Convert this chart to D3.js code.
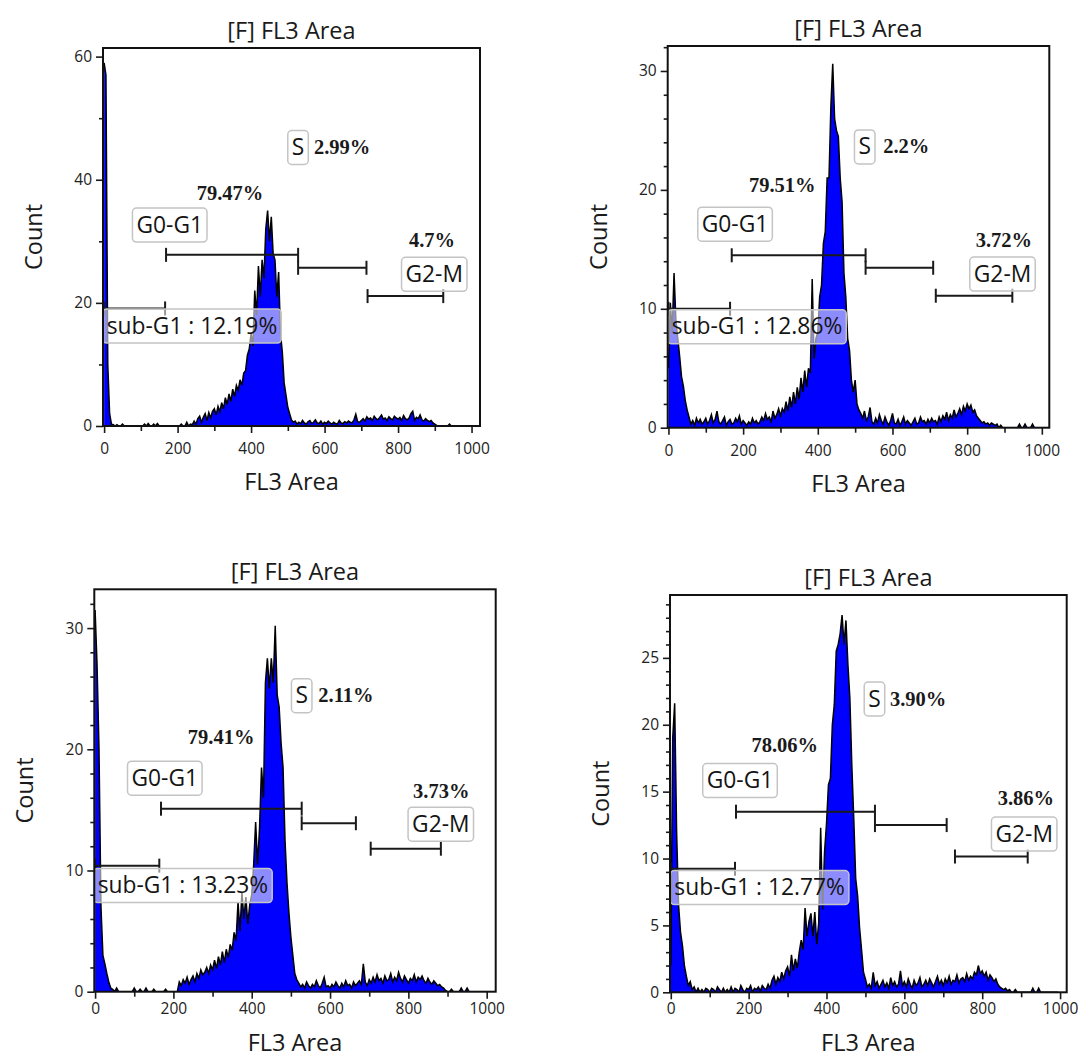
<!DOCTYPE html>
<html><head><meta charset="utf-8">
<script src="https://cdn.jsdelivr.net/npm/d3@7"></script>
<style>body{margin:0;background:#fff}svg{display:block}</style>
</head><body>
<svg id="chart" width="1078" height="1059"></svg>
<script>
// ---------- DATA ----------
// FL3 Area channel (start of each 5-unit bin)
const channels = d3.range(0, 1000, 5);

const countsA = [
59,57,10,2,0.3,0.2,0,0.2,0,0,0.3,0,0,0,0,0,0,0,0,0,
0,0,0.3,0,0.4,0,0,0.3,0,0.4,0,0,0,0,0,0,0,0,0,0,
0,0,0.3,0,0,0.6,0,0.3,0.2,0.8,0.3,1.2,1.6,0.6,1.4,2.0,0.9,2.2,1.3,2.4,
2.8,1.8,3.2,2.3,3.8,2.8,4.6,3.5,5.2,4.0,6.0,4.8,6.6,5.8,7.5,6.6,8.6,9.0,11.5,12.5,
15,13,22,18,26,21,27,24,32,35,30,34,28,27,21,25,15,12,7,5,
3,2,1,0.6,0.8,0.3,0.6,0.4,0.9,0.5,0.3,0.7,0.9,0.4,0.6,1.0,0.5,0.4,0.8,0.3,
0.6,0.4,0.8,0.5,0.3,0.6,0.4,0.3,0.9,0.5,0.4,0.7,0.5,0.8,0.6,0.5,1.0,1.9,0.7,0.6,
0.9,1.2,0.8,1.5,1.1,1.3,0.9,1.6,1.2,1.0,1.4,1.8,1.1,1.3,0.9,1.5,1.2,1.0,1.6,1.3,
1.1,1.4,0.9,1.7,1.2,1.0,1.3,2.0,2.4,0.9,1.4,1.2,1.8,1.0,0.8,1.2,0.9,0.7,0.9,0.5,
0.3,0.1,0,0,0,0,0,0,0.3,0,0,0,0,0,0,0,0,0,0,0];

const countsB = [
5,10.5,8,13,9,7.5,6,4.3,3.5,2.3,1.5,0.9,0.3,0.6,0.2,0.8,0.4,0.7,0.3,0.5,
0.8,0.3,0.6,1.1,0.4,0.7,1.4,0.5,0.3,0.6,0.9,0.2,0.5,0.7,0.3,0.4,0.8,0.5,1.0,0.3,
0.6,0.4,0.2,0.5,0.3,0.8,0.4,0.6,0.3,0.5,0.9,0.6,1.2,0.7,0.9,0.5,1.4,0.8,1.1,1.6,
1.0,1.6,1.3,2.2,1.4,2.6,1.7,3.0,2.0,3.4,2.4,4.2,3.0,4.8,3.4,5.0,4.6,12.5,5.8,7.5,
8,11,12,15.5,16.5,21,21,27,30.6,26,25,24.5,21,19,13,11,7.5,6.5,4,3,
4,2,1.5,1.2,0.8,1.4,0.6,0.9,1.7,0.5,0.3,0.8,0.4,1.1,0.6,0.3,0.9,0.5,0.2,0.6,
1.2,0.4,0.3,0.7,0.2,0.5,0.9,0.3,0.6,0.4,0.2,0.5,0.8,0.3,0.4,0.9,0.5,0.6,0.3,0.7,
0.4,0.8,0.5,0.6,0.3,0.9,0.5,1.0,0.7,1.3,0.6,1.1,0.8,1.5,0.9,1.2,1.6,1.1,1.8,1.4,
2.0,1.6,1.9,1.3,1.5,1.0,0.8,0.6,0.4,0.5,0.3,0.4,0.2,0.4,0.3,0.2,0.3,0,0.2,0,
0,0,0,0,0,0,0,0,0.3,0,0,0.3,0,0,0,0.3,0,0,0,0];

const countsC = [
31.5,27,20,7,3,2.3,1.5,0.8,0.3,0.2,0,0.3,0,0,0,0,0,0,0,0,
0.3,0,0,0.2,0,0,0.3,0,0,0,0.2,0,0,0,0,0,0.2,0,0,0,
0,0,0,0.8,0.5,1.0,0.7,1.2,0.6,1.0,1.3,0.8,1.5,1.1,1.8,1.4,1.6,2.0,1.5,2.2,
1.8,2.6,1.9,2.9,2.2,3.3,2.4,3.5,2.8,3.9,3.4,4.9,4.2,7.4,5.0,8.2,6.0,7.8,5.6,7.2,
8,10.5,14,10.5,13.5,18.5,16,25.5,27.5,25,27.5,25.5,30.2,24.5,23.5,20.5,18.5,12.5,9,6.5,
4.5,3,1.5,1,0.7,0.4,0.6,0.3,0.8,0.5,0.3,0.6,0.4,0.9,0.5,0.3,0.7,1.2,0.4,0.5,
0.3,0.6,0.4,0.8,0.5,0.3,0.7,0.4,0.9,0.5,0.6,0.3,0.8,0.5,0.7,0.9,0.6,2.3,0.8,0.5,
1.0,0.7,1.2,0.8,1.4,0.9,1.1,0.7,1.3,0.9,1.0,1.5,0.8,1.2,0.9,1.6,1.1,0.8,1.3,1.0,
0.7,1.1,0.9,1.4,0.8,1.2,1.0,1.3,0.9,0.7,1.1,0.8,0.6,0.9,0.7,0.5,0.6,0.4,0.3,0.1,
0,0,0.2,0,0,0,0,0.3,0,0,0.3,0,0,0,0,0,0,0,0,0];

const countsD = [
2,19,21.6,12,6.5,4.5,3.5,2,1.2,0.5,0.8,0.2,0.4,0,0.3,0,0.2,0,0.3,0.2,
0,0.3,0.2,0,0.4,0.2,0,0.3,0,0.2,0,0.4,0,0.3,0.2,0,0.5,0.2,0,0.3,
0.2,0.5,0,0.3,0.2,0.4,0.1,0.5,0.3,0.2,0.6,0.3,0.9,1.2,0.6,1.1,0.8,1.5,1.0,1.6,
1.9,1.2,2.8,1.6,2.5,1.8,3.0,3.9,3.2,6.3,4.2,5.3,5.9,4.2,6.0,3.6,5.2,12.3,6.2,10.5,
12.6,15.5,16,20,21.5,25.5,26,26.8,28.2,26,27.8,24.5,22,17,13,8.5,7.2,4.8,3.2,1.5,
1,0.4,0.6,0.3,1.5,0.5,0.8,0.3,0.6,0.9,0.4,0.7,0.3,1.1,0.5,0.8,0.4,0.6,1.6,0.5,
0.8,0.4,1.0,0.6,0.3,0.9,0.5,0.7,1.1,0.4,0.6,0.9,0.5,1.0,0.7,0.4,0.8,1.2,0.6,0.9,
0.5,1.0,0.7,1.2,0.6,0.9,0.8,1.3,0.7,1.0,1.1,0.8,1.4,0.9,1.2,1.0,1.5,1.3,2.0,1.4,
1.6,1.2,1.5,0.9,1.3,1.1,0.8,1.0,0.6,0.4,0.3,0.2,0.3,0.1,0.2,0,0,0.2,0,0,
0,0,0,0,0,0,0.3,0,0,0.3,0,0,0,0,0,0,0,0,0,0];

// gates: [from, to, height(count)] for sub-G1, G0-G1, S, G2-M
const gatesA = [[0,166,19.1],[168.6,528,27.8],[528,714,25.7],[717,923,21.1]];
const gatesB = [[0,165,10],[169.5,528,14.5],[528,709,13.45],[716,921,11.1]];
const gatesC = [[0,164,10.4],[168.3,527.6,15.1],[527.6,666,13.9],[703.8,883,11.8]];
const gatesD = [[0,165,9.23],[167.5,524.5,13.5],[524.5,708.7,12.5],[730,916.8,10.15]];

const subG1Pct = ['12.19%','12.86%','13.23%','12.77%'];
const g0g1Pct  = ['79.47%','79.51%','79.41%','78.06%'];
const sPct     = ['2.99%','2.2%','2.11%','3.90%'];
const g2mPct   = ['4.7%','3.72%','3.73%','3.86%'];

const titleText = '[F] FL3 Area';
const xLabel = 'FL3 Area';
const yLabel = 'Count';
const xMajorTicks = [0,200,400,600,800,1000];
const xMinorTicks = [100,300,500,700,900];
const yMajorA = [0,20,40,60],  yMinorA = [10,30,50];
const yMajorB = [0,10,20,30],  yMinorB = [2,4,6,8,12,14,16,18,22,24,26,28,32];
const yMajorC = [0,10,20,30],  yMinorC = [2,4,6,8,12,14,16,18,22,24,26,28,32];
const yMajorD = [0,5,10,15,20,25], yMinorD = [1,2,3,4,6,7,8,9,11,12,13,14,16,17,18,19,21,22,23,24,26,27,28,29];

// ---------- LAYOUT ----------
const panels = [
 {counts:countsA, gates:gatesA, yMajor:yMajorA, yMinor:yMinorA, yMax:61.4, xDomain:[-3,1023],
  frame:{x0:103,x1:480,y0:48,y1:426}, xPad:10, xLabGap:55,
  pos:{g0:[178.6,32.8], s:[527.8,45.4], sPct:[571,44.2], g0Pct:[342.7,36.7], g2Pct:[892.4,29.0], g2:[898.5,24.8], sub:[7.1,16.4]}},
 {counts:countsB, gates:gatesB, yMajor:yMajorB, yMinor:yMinorB, yMax:32.1, xDomain:[-2,1020],
  frame:{x0:667.7,x1:1049.3,y0:46,y1:427.7}, xPad:10, xLabGap:55,
  pos:{g0:[178.4,17.2], s:[525.7,23.7], sPct:[575,23.1], g0Pct:[304.8,19.8], g2Pct:[898.2,15.2], g2:[894.7,13.0], sub:[8.8,8.57]}},
 {counts:countsC, gates:gatesC, yMajor:yMajorC, yMinor:yMinorC, yMax:33.2, xDomain:[-2,1023],
  frame:{x0:94.3,x1:495.7,y0:589.3,y1:991.7}, xPad:4, xLabGap:50,
  pos:{g0:[178,17.7], s:[527.6,24.5], sPct:[570,23.9], g0Pct:[322,20.4], g2Pct:[883.8,16.0], g2:[882.8,13.9], sub:[6.6,8.84]}},
 {counts:countsD, gates:gatesD, yMajor:yMajorD, yMinor:yMinorD, yMax:29.7, xDomain:[-2,1017],
  frame:{x0:670,x1:1066.7,y0:595,y1:992.3}, xPad:4, xLabGap:50,
  pos:{g0:[177.8,15.9], s:[523.2,22.0], sPct:[563,21.4], g0Pct:[292.6,18.0], g2Pct:[912,14.0], g2:[907.8,11.9], sub:[9.2,7.9]}}
];

const SANS = "'Open Sans','Noto Sans',sans-serif";
const SERIF = "'Liberation Serif','DejaVu Serif',serif";
const svg = d3.select('#chart');

function boxLabel(g, px, py, text, anchor, fillOp) {
  const t = g.append('text').attr('x', px).attr('y', py)
    .attr('text-anchor', anchor).attr('dominant-baseline', 'central')
    .style('font-family', SANS).style('font-size', '22.8px').attr('fill', '#141414').text(text);
  const bb = t.node().getBBox();
  const padX = 4, h = 34;
  g.insert('rect', () => t.node())
    .attr('x', bb.x - padX).attr('y', py - h/2 + 1)
    .attr('width', bb.width + 2*padX).attr('height', h)
    .attr('rx', 4).attr('fill', '#fff').attr('fill-opacity', fillOp)
    .attr('stroke', '#c4c4c4').attr('stroke-width', 1.5);
}

panels.forEach((p, i) => {
  const f = p.frame;
  const g = svg.append('g');
  const x = d3.scaleLinear().domain(p.xDomain).range([f.x0, f.x1]);
  const y = d3.scaleLinear().domain([0, p.yMax]).range([f.y1, f.y0]);
  const data = channels.map((v, k) => ({v, c: p.counts[k]}));

  const clipId = 'clip' + i;
  g.append('clipPath').attr('id', clipId).append('rect')
    .attr('x', f.x0).attr('y', f.y0).attr('width', f.x1 - f.x0).attr('height', f.y1 - f.y0);

  const hg = g.append('g').attr('clip-path', `url(#${clipId})`);
  hg.append('path').datum(data)
    .attr('d', d3.area().x(d => x(d.v)).y0(y(0)).y1(d => y(d.c)))
    .attr('fill', '#0000ff');
  hg.append('path').datum(data)
    .attr('d', d3.line().x(d => x(d.v)).y(d => y(d.c)))
    .attr('fill', 'none').attr('stroke', '#000').attr('stroke-width', 1.5).attr('stroke-linejoin', 'miter');

  // gates
  p.gates.forEach(gt => {
    const gg = g.append('g').attr('stroke', '#1a1a1a').attr('stroke-width', 2);
    const yy = y(gt[2]);
    gg.append('line').attr('x1', x(gt[0])).attr('x2', x(gt[1])).attr('y1', yy).attr('y2', yy);
    [gt[0], gt[1]].forEach(xv => gg.append('line').attr('x1', x(xv)).attr('x2', x(xv)).attr('y1', yy - 7).attr('y2', yy + 7));
  });

  const P = p.pos;
  boxLabel(g, x(P.g0[0]), y(P.g0[1]), 'G0-G1', 'middle', 0.6);
  boxLabel(g, x(P.s[0]), y(P.s[1]), 'S', 'middle', 0.6);
  boxLabel(g, x(P.g2[0]), y(P.g2[1]), 'G2-M', 'middle', 0.6);
  boxLabel(g, x(P.sub[0]), y(P.sub[1]), 'sub-G1 : ' + subG1Pct[i], 'start', 0.55);

  const pctStyle = sel => sel.style('font-family', SERIF).style('font-weight', 'bold').style('font-size', '20.5px').attr('fill', '#1a1a1a');
  g.append('text').attr('x', x(P.g0Pct[0])).attr('y', y(P.g0Pct[1])).attr('text-anchor', 'middle').call(pctStyle).text(g0g1Pct[i]);
  g.append('text').attr('x', x(P.sPct[0])).attr('y', y(P.sPct[1])).attr('text-anchor', 'start').call(pctStyle).text(sPct[i]);
  g.append('text').attr('x', x(P.g2Pct[0])).attr('y', y(P.g2Pct[1])).attr('text-anchor', 'middle').call(pctStyle).text(g2mPct[i]);

  // axes
  const styleAxis = (sel) => {
    sel.select('.domain').remove();
    sel.selectAll('line').attr('stroke', '#1a1a1a').attr('stroke-width', 1.6);
    sel.selectAll('text').style('font-family', SANS).style('font-size', '15.5px').attr('fill', '#222');
  };
  g.append('g').attr('transform', `translate(0,${f.y1})`)
    .call(d3.axisBottom(x).tickValues(xMajorTicks).tickSize(7).tickPadding(p.xPad).tickFormat(d3.format('d'))).call(styleAxis);
  g.append('g').attr('transform', `translate(0,${f.y1})`)
    .call(d3.axisBottom(x).tickValues(xMinorTicks).tickSize(5).tickFormat('')).call(styleAxis);
  g.append('g').attr('transform', `translate(${f.x0},0)`)
    .call(d3.axisLeft(y).tickValues(p.yMajor).tickSize(7).tickPadding(4).tickFormat(d3.format('d'))).call(styleAxis);
  g.append('g').attr('transform', `translate(${f.x0},0)`)
    .call(d3.axisLeft(y).tickValues(p.yMinor).tickSize(4).tickFormat('')).call(styleAxis);

  // frame
  g.append('rect').attr('x', f.x0).attr('y', f.y0).attr('width', f.x1 - f.x0).attr('height', f.y1 - f.y0)
    .attr('fill', 'none').attr('stroke', '#111').attr('stroke-width', 2);

  // titles
  const cx = (f.x0 + f.x1) / 2, cy = (f.y0 + f.y1) / 2;
  g.append('text').attr('x', cx).attr('y', f.y0 - 18).attr('text-anchor', 'middle').attr('dominant-baseline', 'central')
    .style('font-family', SANS).style('font-size', '23.5px').attr('fill', '#1a1a1a').text(titleText);
  g.append('text').attr('x', cx).attr('y', f.y1 + p.xLabGap).attr('text-anchor', 'middle').attr('dominant-baseline', 'central')
    .style('font-family', SANS).style('font-size', '23.5px').attr('fill', '#1a1a1a').text(xLabel);
  g.append('text').attr('transform', `translate(${f.x0 - 70},${cy}) rotate(-90)`).attr('text-anchor', 'middle').attr('dominant-baseline', 'central')
    .style('font-family', SANS).style('font-size', '23.5px').attr('fill', '#1a1a1a').text(yLabel);
});
</script>
</body></html>
